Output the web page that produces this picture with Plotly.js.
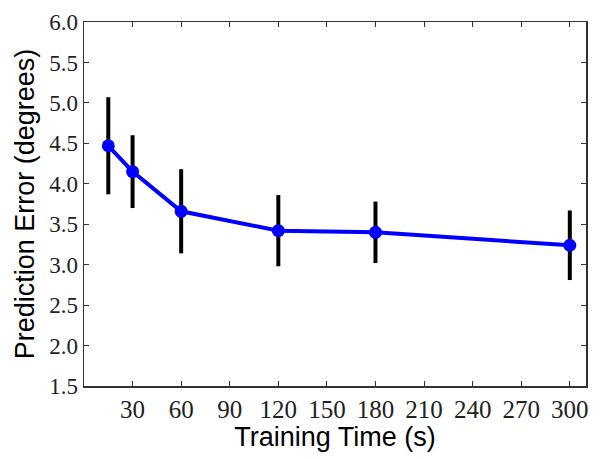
<!DOCTYPE html>
<html>
<head>
<meta charset="utf-8">
<script src="https://cdn.plot.ly/plotly-3.0.1.min.js"></script>
<style>
  html, body { margin: 0; padding: 0; background: #fff; }
  #chart { width: 600px; height: 459px; }
</style>
</head>
<body>
<div id="chart"></div>
<script>
// === Data ===
const trainTime = [15, 30, 60, 120, 180, 300];
const predError = [4.47, 4.15, 3.66, 3.42, 3.40, 3.24];
const errBar = [0.60, 0.45, 0.52, 0.44, 0.38, 0.43];
const xTicks = [30, 60, 90, 120, 150, 180, 210, 240, 270, 300];
const yTicks = [1.5, 2.0, 2.5, 3.0, 3.5, 4.0, 4.5, 5.0, 5.5, 6.0];

const trace = {
  x: trainTime,
  y: predError,
  type: 'scatter',
  mode: 'lines+markers',
  line: { color: '#0000ff', width: 4 },
  marker: { color: '#0000ff', size: 13 },
  error_y: { type: 'data', array: errBar, visible: true, color: '#000000', thickness: 4, width: 0 },
  hoverinfo: 'x+y'
};

const serif = 'Liberation Serif';
const sans = 'Liberation Sans';

const layout = {
  width: 600,
  height: 459,
  margin: { l: 84, r: 14, t: 22, b: 73 },
  paper_bgcolor: '#fff',
  plot_bgcolor: '#fff',
  font: { family: serif, size: 22, color: '#222' },
  showlegend: false,
  xaxis: {
    range: [0, 310],
    tickmode: 'array',
    tickvals: xTicks,
    ticktext: xTicks.map(String),
    ticks: 'inside',
    ticklen: 5,
    tickcolor: '#333',
    mirror: 'allticks',
    showline: true,
    linecolor: '#333',
    linewidth: 1.5,
    showgrid: false,
    zeroline: false,
    tickfont: { family: serif, size: 25, color: '#222' },
    title: { text: 'Training Time (s)', font: { family: sans, size: 27, color: '#000' }, standoff: 2 }
  },
  yaxis: {
    range: [1.5, 6.0],
    tickmode: 'array',
    tickvals: yTicks,
    ticktext: yTicks.map(v => v.toFixed(1)),
    ticks: 'inside',
    ticklen: 5,
    tickcolor: '#333',
    mirror: 'allticks',
    showline: true,
    linecolor: '#333',
    linewidth: 1.5,
    showgrid: false,
    zeroline: false,
    tickfont: { family: serif, size: 23, color: '#222' },
    title: { text: 'Prediction Error (degrees)', font: { family: sans, size: 27, color: '#000' }, standoff: 6 }
  }
};

Plotly.newPlot('chart', [trace], layout, { displayModeBar: false, staticPlot: true });
</script>
</body>
</html>
